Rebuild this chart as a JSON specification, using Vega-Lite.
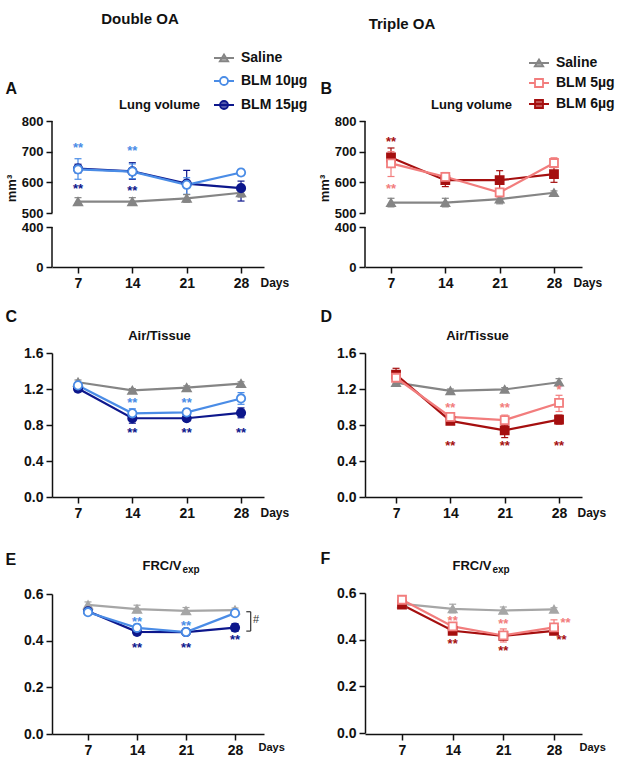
{
"$schema": "https://vega.github.io/schema/vega-lite/v6.json",
"padding": {"left": 5, "top": 12, "right": 5, "bottom": 5},
"config": {
  "font": "Liberation Sans",
  "view": {"stroke": null},
  "axis": {"domainColor": "#111", "domainWidth": 1.5, "tickColor": "#111", "tickWidth": 1.5, "tickSize": 6, "labelFont": "Liberation Sans", "labelFontSize": 14, "labelFontWeight": "bold", "labelColor": "#111", "labelPadding": 3, "titleFont": "Liberation Sans", "titleFontWeight": "bold", "titleFontSize": 13, "titleColor": "#111", "grid": false, "labelFlush": false, "labelOverlap": false, "labelBound": false},
  "title": {"font": "Liberation Sans", "fontWeight": "bold", "fontSize": 15, "color": "#111"},
  "text": {"font": "Liberation Sans"}
},
"datasets": {
  "A": [
    {"group": "Saline", "day": 7, "mean": 537, "lo": 525, "hi": 550},
    {"group": "Saline", "day": 14, "mean": 537, "lo": 525, "hi": 550},
    {"group": "Saline", "day": 21, "mean": 548, "lo": 535, "hi": 560},
    {"group": "Saline", "day": 28, "mean": 566, "lo": 552, "hi": 578},
    {"group": "BLM 15µg", "day": 7, "mean": 645, "lo": 631, "hi": 659},
    {"group": "BLM 15µg", "day": 14, "mean": 636, "lo": 610, "hi": 664},
    {"group": "BLM 15µg", "day": 21, "mean": 596, "lo": 545, "hi": 639},
    {"group": "BLM 15µg", "day": 28, "mean": 581, "lo": 539, "hi": 604},
    {"group": "BLM 10µg", "day": 7, "mean": 642, "lo": 610, "hi": 677},
    {"group": "BLM 10µg", "day": 14, "mean": 635, "lo": 612, "hi": 660},
    {"group": "BLM 10µg", "day": 21, "mean": 592, "lo": 561, "hi": 615},
    {"group": "BLM 10µg", "day": 28, "mean": 632, "lo": 622, "hi": 642}
  ],
  "A_sig": [
    {"group": "BLM 10µg", "day": 7, "pos": 718, "sig": "**"},
    {"group": "BLM 10µg", "day": 14, "pos": 709, "sig": "**"},
    {"group": "BLM 15µg", "day": 7, "pos": 586, "sig": "**"},
    {"group": "BLM 15µg", "day": 14, "pos": 578, "sig": "**"}
  ],
  "B": [
    {"group": "Saline", "day": 7, "mean": 534, "lo": 520, "hi": 548},
    {"group": "Saline", "day": 14, "mean": 534, "lo": 520, "hi": 548},
    {"group": "Saline", "day": 21, "mean": 545, "lo": 530, "hi": 558},
    {"group": "Saline", "day": 28, "mean": 566, "lo": 558, "hi": 572},
    {"group": "BLM 6µg", "day": 7, "mean": 681, "lo": 652, "hi": 712},
    {"group": "BLM 6µg", "day": 14, "mean": 607, "lo": 586, "hi": 625},
    {"group": "BLM 6µg", "day": 21, "mean": 607, "lo": 578, "hi": 638},
    {"group": "BLM 6µg", "day": 28, "mean": 627, "lo": 600, "hi": 650},
    {"group": "BLM 5µg", "day": 7, "mean": 662, "lo": 619, "hi": 700},
    {"group": "BLM 5µg", "day": 14, "mean": 618, "lo": 605, "hi": 632},
    {"group": "BLM 5µg", "day": 21, "mean": 567, "lo": 552, "hi": 580},
    {"group": "BLM 5µg", "day": 28, "mean": 663, "lo": 648, "hi": 680}
  ],
  "B_sig": [
    {"group": "BLM 6µg", "day": 7, "pos": 737, "sig": "**"},
    {"group": "BLM 5µg", "day": 7, "pos": 586, "sig": "**"}
  ],
  "C": [
    {"group": "Saline", "day": 7, "mean": 1.275, "lo": 1.25, "hi": 1.3},
    {"group": "Saline", "day": 14, "mean": 1.185, "lo": 1.165, "hi": 1.205},
    {"group": "Saline", "day": 21, "mean": 1.215, "lo": 1.195, "hi": 1.235},
    {"group": "Saline", "day": 28, "mean": 1.26, "lo": 1.24, "hi": 1.28},
    {"group": "BLM 15µg", "day": 7, "mean": 1.205, "lo": 1.17, "hi": 1.24},
    {"group": "BLM 15µg", "day": 14, "mean": 0.875, "lo": 0.82, "hi": 0.93},
    {"group": "BLM 15µg", "day": 21, "mean": 0.875, "lo": 0.84, "hi": 0.91},
    {"group": "BLM 15µg", "day": 28, "mean": 0.935, "lo": 0.88, "hi": 0.99},
    {"group": "BLM 10µg", "day": 7, "mean": 1.24, "lo": 1.2, "hi": 1.27},
    {"group": "BLM 10µg", "day": 14, "mean": 0.93, "lo": 0.88, "hi": 0.98},
    {"group": "BLM 10µg", "day": 21, "mean": 0.94, "lo": 0.9, "hi": 0.98},
    {"group": "BLM 10µg", "day": 28, "mean": 1.095, "lo": 1.03, "hi": 1.16}
  ],
  "C_sig": [
    {"group": "BLM 10µg", "day": 14, "pos": 1.067, "sig": "**"},
    {"group": "BLM 10µg", "day": 21, "pos": 1.067, "sig": "**"},
    {"group": "BLM 15µg", "day": 14, "pos": 0.733, "sig": "**"},
    {"group": "BLM 15µg", "day": 21, "pos": 0.733, "sig": "**"},
    {"group": "BLM 15µg", "day": 28, "pos": 0.733, "sig": "**"}
  ],
  "D": [
    {"group": "Saline", "day": 7, "mean": 1.27, "lo": 1.23, "hi": 1.31},
    {"group": "Saline", "day": 14, "mean": 1.18, "lo": 1.16, "hi": 1.2},
    {"group": "Saline", "day": 21, "mean": 1.195, "lo": 1.175, "hi": 1.215},
    {"group": "Saline", "day": 28, "mean": 1.275, "lo": 1.235, "hi": 1.315},
    {"group": "BLM 6µg", "day": 7, "mean": 1.36, "lo": 1.31, "hi": 1.43},
    {"group": "BLM 6µg", "day": 14, "mean": 0.845, "lo": 0.81, "hi": 0.88},
    {"group": "BLM 6µg", "day": 21, "mean": 0.74, "lo": 0.66, "hi": 0.8},
    {"group": "BLM 6µg", "day": 28, "mean": 0.86, "lo": 0.81, "hi": 0.91},
    {"group": "BLM 5µg", "day": 7, "mean": 1.325, "lo": 1.26, "hi": 1.4},
    {"group": "BLM 5µg", "day": 14, "mean": 0.89, "lo": 0.85, "hi": 0.93},
    {"group": "BLM 5µg", "day": 21, "mean": 0.855, "lo": 0.8, "hi": 0.91},
    {"group": "BLM 5µg", "day": 28, "mean": 1.045, "lo": 0.95, "hi": 1.13}
  ],
  "D_sig": [
    {"group": "BLM 5µg", "day": 14, "pos": 1.01, "sig": "**"},
    {"group": "BLM 5µg", "day": 21, "pos": 1.01, "sig": "**"},
    {"group": "BLM 5µg", "day": 28, "pos": 1.21, "sig": "*"},
    {"group": "BLM 6µg", "day": 14, "pos": 0.586, "sig": "**"},
    {"group": "BLM 6µg", "day": 21, "pos": 0.586, "sig": "**"},
    {"group": "BLM 6µg", "day": 28, "pos": 0.586, "sig": "**"}
  ],
  "E": [
    {"group": "Saline", "day": 7, "mean": 0.553, "lo": 0.54, "hi": 0.566},
    {"group": "Saline", "day": 14, "mean": 0.535, "lo": 0.52, "hi": 0.552},
    {"group": "Saline", "day": 21, "mean": 0.528, "lo": 0.515, "hi": 0.542},
    {"group": "Saline", "day": 28, "mean": 0.531, "lo": 0.522, "hi": 0.54},
    {"group": "BLM 15µg", "day": 7, "mean": 0.526, "lo": 0.518, "hi": 0.534},
    {"group": "BLM 15µg", "day": 14, "mean": 0.438, "lo": 0.425, "hi": 0.452},
    {"group": "BLM 15µg", "day": 21, "mean": 0.437, "lo": 0.43, "hi": 0.445},
    {"group": "BLM 15µg", "day": 28, "mean": 0.456, "lo": 0.44, "hi": 0.473},
    {"group": "BLM 10µg", "day": 7, "mean": 0.522, "lo": 0.515, "hi": 0.53},
    {"group": "BLM 10µg", "day": 14, "mean": 0.455, "lo": 0.44, "hi": 0.47},
    {"group": "BLM 10µg", "day": 21, "mean": 0.437, "lo": 0.43, "hi": 0.445},
    {"group": "BLM 10µg", "day": 28, "mean": 0.518, "lo": 0.51, "hi": 0.526}
  ],
  "E_sig": [
    {"group": "BLM 10µg", "day": 14, "pos": 0.49, "sig": "**"},
    {"group": "BLM 10µg", "day": 21, "pos": 0.472, "sig": "**"},
    {"group": "BLM 15µg", "day": 14, "pos": 0.377, "sig": "**"},
    {"group": "BLM 15µg", "day": 21, "pos": 0.377, "sig": "**"},
    {"group": "BLM 15µg", "day": 28, "pos": 0.413, "sig": "**"}
  ],
  "F": [
    {"group": "Saline", "day": 7, "mean": 0.553, "lo": 0.54, "hi": 0.566},
    {"group": "Saline", "day": 14, "mean": 0.532, "lo": 0.515, "hi": 0.552},
    {"group": "Saline", "day": 21, "mean": 0.525, "lo": 0.512, "hi": 0.54},
    {"group": "Saline", "day": 28, "mean": 0.53, "lo": 0.522, "hi": 0.537},
    {"group": "BLM 6µg", "day": 7, "mean": 0.55, "lo": 0.54, "hi": 0.56},
    {"group": "BLM 6µg", "day": 14, "mean": 0.438, "lo": 0.43, "hi": 0.446},
    {"group": "BLM 6µg", "day": 21, "mean": 0.416, "lo": 0.4, "hi": 0.432},
    {"group": "BLM 6µg", "day": 28, "mean": 0.438, "lo": 0.428, "hi": 0.45},
    {"group": "BLM 5µg", "day": 7, "mean": 0.571, "lo": 0.56, "hi": 0.582},
    {"group": "BLM 5µg", "day": 14, "mean": 0.457, "lo": 0.445, "hi": 0.47},
    {"group": "BLM 5µg", "day": 21, "mean": 0.418, "lo": 0.39, "hi": 0.446},
    {"group": "BLM 5µg", "day": 28, "mean": 0.453, "lo": 0.43, "hi": 0.485}
  ],
  "F_sig": [
    {"group": "BLM 5µg", "day": 14, "pos": 0.49, "sig": "**"},
    {"group": "BLM 5µg", "day": 21, "pos": 0.474, "sig": "**"},
    {"group": "BLM 5µg", "day": 29.6, "pos": 0.48, "sig": "**"},
    {"group": "BLM 6µg", "day": 14, "pos": 0.388, "sig": "**"},
    {"group": "BLM 6µg", "day": 21, "pos": 0.36, "sig": "**"},
    {"group": "BLM 6µg", "day": 29.03, "pos": 0.408, "sig": "**"}
  ]
},
"columns": 2,
"bounds": "flush",
"spacing": {"row": 86, "column": 101},
"resolve": {"scale": {"color": "independent", "fill": "independent", "shape": "independent", "opacity": "independent"}},
"concat": [
{
  "width": 212, "height": 146,
  "title": {"text": "Double OA", "frame": "group", "anchor": "middle", "dx": -18, "offset": 12, "baseline": "alphabetic", "fontSize": 15},
  "layer": [
    {"layer": [
      {"data": {"name": "A"}, "mark": {"type": "rule", "strokeWidth": 1.2},
       "encoding": {
         "x": {"field": "day", "type": "quantitative", "scale": {"domain": [3.65, 30.96], "nice": false, "zero": false},
               "axis": {"values": [7, 14, 21, 28], "tickCount": 20, "format": "d", "labelOverlap": false, "title": "Days", "titleX": 208, "titleY": 19, "titleAlign": "left", "titleBaseline": "alphabetic", "titleAngle": 0, "titleFontSize": 12}},
         "y": {"field": "lo", "type": "quantitative", "scale": {"domain": [0, 400, 500, 800], "range": [146, 106, 92, 0], "nice": false, "zero": false},
               "axis": {"values": [0, 400, 500, 600, 700, 800], "tickCount": 20, "labelFontSize": 13, "labelOverlap": false, "domain": false, "title": "mm³", "titleX": -37, "titleY": 67, "titleAngle": -90, "titleAlign": "center", "titleBaseline": "alphabetic", "titleFontSize": 13}},
         "y2": {"field": "hi"},
         "color": {"field": "group", "type": "nominal", "scale": {"domain": ["BLM 15µg", "BLM 10µg", "Saline"], "range": ["#0d178c", "#4a8ce6", "#858585"]}, "legend": null}
       }},
      {"data": {"name": "A"}, "mark": {"type": "point", "shape": "stroke", "size": 49, "strokeWidth": 1.2, "filled": false, "opacity": 1},
       "encoding": {"x": {"field": "day", "type": "quantitative"}, "y": {"field": "lo", "type": "quantitative"}, "color": {"field": "group", "type": "nominal", "legend": null}}},
      {"data": {"name": "A"}, "mark": {"type": "point", "shape": "stroke", "size": 49, "strokeWidth": 1.2, "filled": false, "opacity": 1},
       "encoding": {"x": {"field": "day", "type": "quantitative"}, "y": {"field": "hi", "type": "quantitative"}, "color": {"field": "group", "type": "nominal", "legend": null}}},
      {"data": {"name": "A"}, "mark": {"type": "line", "strokeWidth": 2.2},
       "encoding": {"x": {"field": "day", "type": "quantitative"}, "y": {"field": "mean", "type": "quantitative"}, "color": {"field": "group", "type": "nominal", "legend": null}}},
      {"data": {"name": "A"}, "mark": {"type": "point", "filled": false, "strokeWidth": 1.8, "size": 70},
       "encoding": {"x": {"field": "day", "type": "quantitative"}, "y": {"field": "mean", "type": "quantitative"}, "color": {"field": "group", "type": "nominal", "legend": null},
         "fill": {"field": "group", "type": "nominal", "scale": {"domain": ["BLM 10µg", "Saline", "BLM 15µg"], "range": ["#ffffff", "#858585", "#0d178c"]}, "legend": null},
         "shape": {"field": "group", "type": "nominal", "scale": {"domain": ["BLM 15µg", "Saline", "BLM 10µg"], "range": ["circle", "triangle-up", "circle"]}, "legend": null},
         "opacity": {"field": "group", "type": "ordinal", "scale": {"domain": ["Saline", "BLM 10µg", "BLM 15µg"], "range": [1, 1, 1]},
           "legend": {"orient": "none", "legendX": 165, "legendY": -70, "title": null, "labelFont": "Liberation Sans", "labelFontSize": 14, "labelFontWeight": "bold", "labelColor": "#111", "labelOffset": 10, "rowPadding": 8, "symbolSize": 64,
             "encoding": {"symbols": {
               "shape": {"value": {"expr": "datum.value === 'Saline' ? 'M-2.5,0H2.5M0,-0.9L1.05,0.85L-1.05,0.85Z' : datum.value === 'BLM 10µg' ? 'M-2.5,0H-1M1,0H2.5M-1,0A1,1,0,1,1,1,0A1,1,0,1,1,-1,0Z' : 'M-2.5,0H2.5M-1,0A1,1,0,1,1,1,0A1,1,0,1,1,-1,0Z'"}},
               "fill": {"value": {"expr": "datum.value === 'Saline' ? '#858585' : datum.value === 'BLM 10µg' ? '#ffffff' : '#0d178c'"}},
               "stroke": {"value": {"expr": "datum.value === 'Saline' ? '#858585' : datum.value === 'BLM 10µg' ? '#4a8ce6' : '#0d178c'"}},
               "strokeWidth": {"value": 1.8}, "size": {"value": 64}}}}}}},
      {"data": {"name": "A_sig"}, "mark": {"type": "text", "fontSize": 13, "fontWeight": "bold", "dy": 2},
       "encoding": {"x": {"field": "day", "type": "quantitative"}, "y": {"field": "pos", "type": "quantitative"}, "text": {"field": "sig"}, "color": {"field": "group", "type": "nominal", "legend": null}}},
      {"data": {"values": [{}]}, "mark": {"type": "rule", "color": "#111", "strokeWidth": 1.5},
       "encoding": {"x": {"datum": 3.65}, "y": {"datum": 0}, "y2": {"datum": 400}}},
      {"data": {"values": [{}]}, "mark": {"type": "rule", "color": "#111", "strokeWidth": 1.5},
       "encoding": {"x": {"datum": 3.65}, "y": {"datum": 500}, "y2": {"datum": 800}}}
    ]},
    {"data": {"name": "A"}, "mark": {"type": "point", "opacity": 0},
     "encoding": {
       "x": {"field": "day", "type": "quantitative", "axis": {"orient": "top", "domain": false, "ticks": false, "labels": false, "title": "Lung volume", "titleX": 107, "titleY": -13, "titleAlign": "center", "titleBaseline": "alphabetic", "titleAngle": 0, "titleFontSize": 13}},
       "y": {"field": "mean", "type": "quantitative", "axis": {"orient": "right", "domain": false, "ticks": false, "labels": false, "title": "A", "titleX": -259, "titleY": -28, "titleAlign": "left", "titleBaseline": "alphabetic", "titleAngle": 0, "titleFontSize": 16}}}}
  ],
  "resolve": {"axis": {"x": "independent", "y": "independent"}}
},
{
  "width": 217, "height": 146,
  "title": {"text": "Triple OA", "frame": "group", "anchor": "middle", "dx": -71.5, "offset": 12, "baseline": "alphabetic", "fontSize": 15},
  "layer": [
    {"layer": [
      {"data": {"name": "B"}, "mark": {"type": "rule", "strokeWidth": 1.2},
       "encoding": {
         "x": {"field": "day", "type": "quantitative", "scale": {"domain": [3.65, 31.61], "nice": false, "zero": false},
               "axis": {"values": [7, 14, 21, 28], "tickCount": 20, "format": "d", "labelOverlap": false, "title": "Days", "titleX": 208, "titleY": 19, "titleAlign": "left", "titleBaseline": "alphabetic", "titleAngle": 0, "titleFontSize": 12}},
         "y": {"field": "lo", "type": "quantitative", "scale": {"domain": [0, 400, 500, 800], "range": [146, 106, 92, 0], "nice": false, "zero": false},
               "axis": {"values": [0, 400, 500, 600, 700, 800], "tickCount": 20, "labelFontSize": 13, "labelOverlap": false, "domain": false, "title": "mm³", "titleX": -37, "titleY": 67, "titleAngle": -90, "titleAlign": "center", "titleBaseline": "alphabetic", "titleFontSize": 13}},
         "y2": {"field": "hi"},
         "color": {"field": "group", "type": "nominal", "scale": {"domain": ["BLM 6µg", "BLM 5µg", "Saline"], "range": ["#a50f0f", "#f27d7d", "#858585"]}, "legend": null}
       }},
      {"data": {"name": "B"}, "mark": {"type": "point", "shape": "stroke", "size": 49, "strokeWidth": 1.2, "filled": false, "opacity": 1},
       "encoding": {"x": {"field": "day", "type": "quantitative"}, "y": {"field": "lo", "type": "quantitative"}, "color": {"field": "group", "type": "nominal", "legend": null}}},
      {"data": {"name": "B"}, "mark": {"type": "point", "shape": "stroke", "size": 49, "strokeWidth": 1.2, "filled": false, "opacity": 1},
       "encoding": {"x": {"field": "day", "type": "quantitative"}, "y": {"field": "hi", "type": "quantitative"}, "color": {"field": "group", "type": "nominal", "legend": null}}},
      {"data": {"name": "B"}, "mark": {"type": "line", "strokeWidth": 2.2},
       "encoding": {"x": {"field": "day", "type": "quantitative"}, "y": {"field": "mean", "type": "quantitative"}, "color": {"field": "group", "type": "nominal", "legend": null}}},
      {"data": {"name": "B"}, "mark": {"type": "point", "filled": false, "strokeWidth": 1.8, "size": 64},
       "encoding": {"x": {"field": "day", "type": "quantitative"}, "y": {"field": "mean", "type": "quantitative"}, "color": {"field": "group", "type": "nominal", "legend": null},
         "fill": {"field": "group", "type": "nominal", "scale": {"domain": ["BLM 5µg", "Saline", "BLM 6µg"], "range": ["#ffffff", "#858585", "#a50f0f"]}, "legend": null},
         "shape": {"field": "group", "type": "nominal", "scale": {"domain": ["BLM 6µg", "Saline", "BLM 5µg"], "range": ["square", "triangle-up", "square"]}, "legend": null},
         "opacity": {"field": "group", "type": "ordinal", "scale": {"domain": ["Saline", "BLM 5µg", "BLM 6µg"], "range": [1, 1, 1]},
           "legend": {"orient": "none", "legendX": 167, "legendY": -65, "title": null, "labelFont": "Liberation Sans", "labelFontSize": 14, "labelFontWeight": "bold", "labelColor": "#111", "labelOffset": 10, "rowPadding": 5, "symbolSize": 64,
             "encoding": {"symbols": {
               "shape": {"value": {"expr": "datum.value === 'Saline' ? 'M-2.5,0H2.5M0,-0.9L1.05,0.85L-1.05,0.85Z' : datum.value === 'BLM 5µg' ? 'M-2.5,0H-1M1,0H2.5M-1,-1H1V1H-1Z' : 'M-2.5,0H2.5M-1,-1H1V1H-1Z'"}},
               "fill": {"value": {"expr": "datum.value === 'Saline' ? '#858585' : datum.value === 'BLM 5µg' ? '#ffffff' : '#a50f0f'"}},
               "stroke": {"value": {"expr": "datum.value === 'Saline' ? '#858585' : datum.value === 'BLM 5µg' ? '#f27d7d' : '#a50f0f'"}},
               "strokeWidth": {"value": 1.8}, "size": {"value": 64}}}}}}},
      {"data": {"name": "B_sig"}, "mark": {"type": "text", "fontSize": 13, "fontWeight": "bold", "dy": 2},
       "encoding": {"x": {"field": "day", "type": "quantitative"}, "y": {"field": "pos", "type": "quantitative"}, "text": {"field": "sig"}, "color": {"field": "group", "type": "nominal", "legend": null}}},
      {"data": {"values": [{}]}, "mark": {"type": "rule", "color": "#111", "strokeWidth": 1.5},
       "encoding": {"x": {"datum": 3.65}, "y": {"datum": 0}, "y2": {"datum": 400}}},
      {"data": {"values": [{}]}, "mark": {"type": "rule", "color": "#111", "strokeWidth": 1.5},
       "encoding": {"x": {"datum": 3.65}, "y": {"datum": 500}, "y2": {"datum": 800}}}
    ]},
    {"data": {"name": "B"}, "mark": {"type": "point", "opacity": 0},
     "encoding": {
       "x": {"field": "day", "type": "quantitative", "axis": {"orient": "top", "domain": false, "ticks": false, "labels": false, "title": "Lung volume", "titleX": 106, "titleY": -13, "titleAlign": "center", "titleBaseline": "alphabetic", "titleAngle": 0, "titleFontSize": 13}},
       "y": {"field": "mean", "type": "quantitative", "axis": {"orient": "right", "domain": false, "ticks": false, "labels": false, "title": "B", "titleX": -262, "titleY": -28, "titleAlign": "left", "titleBaseline": "alphabetic", "titleAngle": 0, "titleFontSize": 16}}}}
  ],
  "resolve": {"axis": {"x": "independent", "y": "independent"}}
},
{
  "width": 212, "height": 144,
  "layer": [
    {"layer": [
      {"data": {"name": "C"}, "mark": {"type": "rule", "strokeWidth": 1.2},
       "encoding": {
         "x": {"field": "day", "type": "quantitative", "scale": {"domain": [3.65, 30.96], "nice": false, "zero": false},
               "axis": {"values": [7, 14, 21, 28], "tickCount": 20, "format": "d", "labelOverlap": false, "title": "Days", "titleX": 208, "titleY": 19, "titleAlign": "left", "titleBaseline": "alphabetic", "titleAngle": 0, "titleFontSize": 12}},
         "y": {"field": "lo", "type": "quantitative", "scale": {"domain": [0, 1.6], "nice": false, "zero": false},
               "axis": {"values": [0, 0.4, 0.8, 1.2, 1.6], "tickCount": 20, "format": ".1f", "labelOverlap": false, "title": null}},
         "y2": {"field": "hi"},
         "color": {"field": "group", "type": "nominal", "scale": {"domain": ["Saline", "BLM 10µg", "BLM 15µg"], "range": ["#858585", "#4a8ce6", "#0d178c"]}, "legend": null}
       }},
      {"data": {"name": "C"}, "mark": {"type": "point", "shape": "stroke", "size": 49, "strokeWidth": 1.2, "filled": false, "opacity": 1},
       "encoding": {"x": {"field": "day", "type": "quantitative"}, "y": {"field": "lo", "type": "quantitative"}, "color": {"field": "group", "type": "nominal", "legend": null}}},
      {"data": {"name": "C"}, "mark": {"type": "point", "shape": "stroke", "size": 49, "strokeWidth": 1.2, "filled": false, "opacity": 1},
       "encoding": {"x": {"field": "day", "type": "quantitative"}, "y": {"field": "hi", "type": "quantitative"}, "color": {"field": "group", "type": "nominal", "legend": null}}},
      {"data": {"name": "C"}, "mark": {"type": "line", "strokeWidth": 2.2},
       "encoding": {"x": {"field": "day", "type": "quantitative"}, "y": {"field": "mean", "type": "quantitative"}, "color": {"field": "group", "type": "nominal", "legend": null}}},
      {"data": {"name": "C"}, "mark": {"type": "point", "filled": false, "opacity": 1, "strokeWidth": 1.8, "size": 70},
       "encoding": {"x": {"field": "day", "type": "quantitative"}, "y": {"field": "mean", "type": "quantitative"}, "color": {"field": "group", "type": "nominal", "legend": null},
         "fill": {"field": "group", "type": "nominal", "scale": {"domain": ["Saline", "BLM 10µg", "BLM 15µg"], "range": ["#858585", "#ffffff", "#0d178c"]}, "legend": null},
         "shape": {"field": "group", "type": "nominal", "scale": {"domain": ["Saline", "BLM 10µg", "BLM 15µg"], "range": ["triangle-up", "circle", "circle"]}, "legend": null}}},
      {"data": {"name": "C_sig"}, "mark": {"type": "text", "fontSize": 13, "fontWeight": "bold", "dy": 2},
       "encoding": {"x": {"field": "day", "type": "quantitative"}, "y": {"field": "pos", "type": "quantitative"}, "text": {"field": "sig"}, "color": {"field": "group", "type": "nominal", "legend": null}}}
    ]},
    {"data": {"name": "C"}, "mark": {"type": "point", "opacity": 0},
     "encoding": {
       "x": {"field": "day", "type": "quantitative", "axis": {"orient": "top", "domain": false, "ticks": false, "labels": false, "title": "Air/Tissue", "titleX": 107, "titleY": -14, "titleAlign": "center", "titleBaseline": "alphabetic", "titleAngle": 0, "titleFontSize": 13}},
       "y": {"field": "mean", "type": "quantitative", "axis": {"orient": "right", "domain": false, "ticks": false, "labels": false, "title": "C", "titleX": -259, "titleY": -32, "titleAlign": "left", "titleBaseline": "alphabetic", "titleAngle": 0, "titleFontSize": 16}}}}
  ],
  "resolve": {"axis": {"x": "independent", "y": "independent"}}
},
{
  "width": 217, "height": 144,
  "layer": [
    {"layer": [
      {"data": {"name": "D"}, "mark": {"type": "rule", "strokeWidth": 1.2},
       "encoding": {
         "x": {"field": "day", "type": "quantitative", "scale": {"domain": [3.0, 30.96], "nice": false, "zero": false},
               "axis": {"values": [7, 14, 21, 28], "tickCount": 20, "format": "d", "labelOverlap": false, "title": "Days", "titleX": 212, "titleY": 19, "titleAlign": "left", "titleBaseline": "alphabetic", "titleAngle": 0, "titleFontSize": 12}},
         "y": {"field": "lo", "type": "quantitative", "scale": {"domain": [0, 1.6], "nice": false, "zero": false},
               "axis": {"values": [0, 0.4, 0.8, 1.2, 1.6], "tickCount": 20, "format": ".1f", "labelOverlap": false, "title": null}},
         "y2": {"field": "hi"},
         "color": {"field": "group", "type": "nominal", "scale": {"domain": ["Saline", "BLM 5µg", "BLM 6µg"], "range": ["#858585", "#f27d7d", "#a50f0f"]}, "legend": null}
       }},
      {"data": {"name": "D"}, "mark": {"type": "point", "shape": "stroke", "size": 49, "strokeWidth": 1.2, "filled": false, "opacity": 1},
       "encoding": {"x": {"field": "day", "type": "quantitative"}, "y": {"field": "lo", "type": "quantitative"}, "color": {"field": "group", "type": "nominal", "legend": null}}},
      {"data": {"name": "D"}, "mark": {"type": "point", "shape": "stroke", "size": 49, "strokeWidth": 1.2, "filled": false, "opacity": 1},
       "encoding": {"x": {"field": "day", "type": "quantitative"}, "y": {"field": "hi", "type": "quantitative"}, "color": {"field": "group", "type": "nominal", "legend": null}}},
      {"data": {"name": "D"}, "mark": {"type": "line", "strokeWidth": 2.2},
       "encoding": {"x": {"field": "day", "type": "quantitative"}, "y": {"field": "mean", "type": "quantitative"}, "color": {"field": "group", "type": "nominal", "legend": null}}},
      {"data": {"name": "D"}, "mark": {"type": "point", "filled": false, "opacity": 1, "strokeWidth": 1.8, "size": 64},
       "encoding": {"x": {"field": "day", "type": "quantitative"}, "y": {"field": "mean", "type": "quantitative"}, "color": {"field": "group", "type": "nominal", "legend": null},
         "fill": {"field": "group", "type": "nominal", "scale": {"domain": ["Saline", "BLM 5µg", "BLM 6µg"], "range": ["#858585", "#ffffff", "#a50f0f"]}, "legend": null},
         "shape": {"field": "group", "type": "nominal", "scale": {"domain": ["Saline", "BLM 5µg", "BLM 6µg"], "range": ["triangle-up", "square", "square"]}, "legend": null}}},
      {"data": {"name": "D_sig"}, "mark": {"type": "text", "fontSize": 13, "fontWeight": "bold", "dy": 2},
       "encoding": {"x": {"field": "day", "type": "quantitative"}, "y": {"field": "pos", "type": "quantitative"}, "text": {"field": "sig"}, "color": {"field": "group", "type": "nominal", "legend": null}}}
    ]},
    {"data": {"name": "D"}, "mark": {"type": "point", "opacity": 0},
     "encoding": {
       "x": {"field": "day", "type": "quantitative", "axis": {"orient": "top", "domain": false, "ticks": false, "labels": false, "title": "Air/Tissue", "titleX": 112, "titleY": -14, "titleAlign": "center", "titleBaseline": "alphabetic", "titleAngle": 0, "titleFontSize": 13}},
       "y": {"field": "mean", "type": "quantitative", "axis": {"orient": "right", "domain": false, "ticks": false, "labels": false, "title": "D", "titleX": -262, "titleY": -32, "titleAlign": "left", "titleBaseline": "alphabetic", "titleAngle": 0, "titleFontSize": 16}}}}
  ],
  "resolve": {"axis": {"x": "independent", "y": "independent"}}
},
{
  "width": 212, "height": 151,
  "layer": [
    {"layer": [
      {"data": {"name": "E"}, "mark": {"type": "rule", "strokeWidth": 1.2},
       "encoding": {
         "x": {"field": "day", "type": "quantitative", "scale": {"domain": [1.857, 32.14], "nice": false, "zero": false},
               "axis": {"values": [7, 14, 21, 28], "tickCount": 20, "format": "d", "labelOverlap": false, "title": "Days", "titleX": 206, "titleY": 16, "titleAlign": "left", "titleBaseline": "alphabetic", "titleAngle": 0, "titleFontSize": 11}},
         "y": {"field": "lo", "type": "quantitative", "scale": {"domain": [0, 0.6], "range": [151, 11], "nice": false, "zero": false},
               "axis": {"values": [0, 0.2, 0.4, 0.6], "tickCount": 20, "format": ".1f", "labelOverlap": false, "title": "exp", "titleX": 130, "titleY": -11, "titleAngle": 0, "titleAlign": "left", "titleBaseline": "alphabetic", "titleFontSize": 10}},
         "y2": {"field": "hi"},
         "color": {"field": "group", "type": "nominal", "scale": {"domain": ["Saline", "BLM 10µg", "BLM 15µg"], "range": ["#a6a6a6", "#4a8ce6", "#0d178c"]}, "legend": null}
       }},
      {"data": {"name": "E"}, "mark": {"type": "point", "shape": "stroke", "size": 49, "strokeWidth": 1.2, "filled": false, "opacity": 1},
       "encoding": {"x": {"field": "day", "type": "quantitative"}, "y": {"field": "lo", "type": "quantitative"}, "color": {"field": "group", "type": "nominal", "legend": null}}},
      {"data": {"name": "E"}, "mark": {"type": "point", "shape": "stroke", "size": 49, "strokeWidth": 1.2, "filled": false, "opacity": 1},
       "encoding": {"x": {"field": "day", "type": "quantitative"}, "y": {"field": "hi", "type": "quantitative"}, "color": {"field": "group", "type": "nominal", "legend": null}}},
      {"data": {"name": "E"}, "mark": {"type": "line", "strokeWidth": 2.2},
       "encoding": {"x": {"field": "day", "type": "quantitative"}, "y": {"field": "mean", "type": "quantitative"}, "color": {"field": "group", "type": "nominal", "legend": null}}},
      {"data": {"name": "E"}, "mark": {"type": "point", "filled": false, "opacity": 1, "strokeWidth": 1.8, "size": 70},
       "encoding": {"x": {"field": "day", "type": "quantitative"}, "y": {"field": "mean", "type": "quantitative"}, "color": {"field": "group", "type": "nominal", "legend": null},
         "fill": {"field": "group", "type": "nominal", "scale": {"domain": ["Saline", "BLM 10µg", "BLM 15µg"], "range": ["#a6a6a6", "#ffffff", "#0d178c"]}, "legend": null},
         "shape": {"field": "group", "type": "nominal", "scale": {"domain": ["Saline", "BLM 10µg", "BLM 15µg"], "range": ["triangle-up", "circle", "circle"]}, "legend": null}}},
      {"data": {"name": "E_sig"}, "mark": {"type": "text", "fontSize": 13, "fontWeight": "bold", "dy": 2},
       "encoding": {"x": {"field": "day", "type": "quantitative"}, "y": {"field": "pos", "type": "quantitative"}, "text": {"field": "sig"}, "color": {"field": "group", "type": "nominal", "legend": null}}},
      {"data": {"values": [{}]}, "mark": {"type": "rule", "color": "#333", "strokeWidth": 1.2},
       "encoding": {"x": {"datum": 30.24}, "y": {"datum": 0.441}, "y2": {"datum": 0.524}}},
      {"data": {"values": [{}]}, "mark": {"type": "rule", "color": "#333", "strokeWidth": 1.2},
       "encoding": {"x": {"datum": 29.61}, "x2": {"datum": 30.24}, "y": {"datum": 0.524}}},
      {"data": {"values": [{}]}, "mark": {"type": "rule", "color": "#333", "strokeWidth": 1.2},
       "encoding": {"x": {"datum": 29.61}, "x2": {"datum": 30.24}, "y": {"datum": 0.441}}},
      {"data": {"values": [{}]}, "mark": {"type": "text", "text": "#", "fontSize": 11, "align": "left", "baseline": "middle", "color": "#333"},
       "encoding": {"x": {"datum": 30.57}, "y": {"datum": 0.487}}}
    ]},
    {"data": {"name": "E"}, "mark": {"type": "point", "opacity": 0},
     "encoding": {
       "x": {"field": "day", "type": "quantitative", "axis": {"orient": "top", "domain": false, "ticks": false, "labels": false, "title": "FRC/V", "titleX": 129, "titleY": -14, "titleAlign": "right", "titleBaseline": "alphabetic", "titleAngle": 0, "titleFontSize": 13}},
       "y": {"field": "mean", "type": "quantitative", "axis": {"orient": "right", "domain": false, "ticks": false, "labels": false, "title": "E", "titleX": -259, "titleY": -19, "titleAlign": "left", "titleBaseline": "alphabetic", "titleAngle": 0, "titleFontSize": 16}}}}
  ],
  "resolve": {"axis": {"x": "independent", "y": "independent"}}
},
{
  "width": 217, "height": 151,
  "layer": [
    {"layer": [
      {"data": {"name": "F"}, "mark": {"type": "rule", "strokeWidth": 1.2},
       "encoding": {
         "x": {"field": "day", "type": "quantitative", "scale": {"domain": [1.888, 31.87], "nice": false, "zero": false},
               "axis": {"values": [7, 14, 21, 28], "tickCount": 20, "format": "d", "labelOverlap": false, "title": "Days", "titleX": 214, "titleY": 16, "titleAlign": "left", "titleBaseline": "alphabetic", "titleAngle": 0, "titleFontSize": 11}},
         "y": {"field": "lo", "type": "quantitative", "scale": {"domain": [0, 0.6], "range": [150, 10], "nice": false, "zero": false},
               "axis": {"values": [0, 0.2, 0.4, 0.6], "tickCount": 20, "format": ".1f", "labelOverlap": false, "title": "exp", "titleX": 127, "titleY": -11, "titleAngle": 0, "titleAlign": "left", "titleBaseline": "alphabetic", "titleFontSize": 10}},
         "y2": {"field": "hi"},
         "color": {"field": "group", "type": "nominal", "scale": {"domain": ["Saline", "BLM 5µg", "BLM 6µg"], "range": ["#a6a6a6", "#f27d7d", "#a50f0f"]}, "legend": null}
       }},
      {"data": {"name": "F"}, "mark": {"type": "point", "shape": "stroke", "size": 49, "strokeWidth": 1.2, "filled": false, "opacity": 1},
       "encoding": {"x": {"field": "day", "type": "quantitative"}, "y": {"field": "lo", "type": "quantitative"}, "color": {"field": "group", "type": "nominal", "legend": null}}},
      {"data": {"name": "F"}, "mark": {"type": "point", "shape": "stroke", "size": 49, "strokeWidth": 1.2, "filled": false, "opacity": 1},
       "encoding": {"x": {"field": "day", "type": "quantitative"}, "y": {"field": "hi", "type": "quantitative"}, "color": {"field": "group", "type": "nominal", "legend": null}}},
      {"data": {"name": "F"}, "mark": {"type": "line", "strokeWidth": 2.2},
       "encoding": {"x": {"field": "day", "type": "quantitative"}, "y": {"field": "mean", "type": "quantitative"}, "color": {"field": "group", "type": "nominal", "legend": null}}},
      {"data": {"name": "F"}, "mark": {"type": "point", "filled": false, "opacity": 1, "strokeWidth": 1.8, "size": 64},
       "encoding": {"x": {"field": "day", "type": "quantitative"}, "y": {"field": "mean", "type": "quantitative"}, "color": {"field": "group", "type": "nominal", "legend": null},
         "fill": {"field": "group", "type": "nominal", "scale": {"domain": ["Saline", "BLM 5µg", "BLM 6µg"], "range": ["#a6a6a6", "#ffffff", "#a50f0f"]}, "legend": null},
         "shape": {"field": "group", "type": "nominal", "scale": {"domain": ["Saline", "BLM 5µg", "BLM 6µg"], "range": ["triangle-up", "square", "square"]}, "legend": null}}},
      {"data": {"name": "F_sig"}, "mark": {"type": "text", "fontSize": 13, "fontWeight": "bold", "dy": 2},
       "encoding": {"x": {"field": "day", "type": "quantitative"}, "y": {"field": "pos", "type": "quantitative"}, "text": {"field": "sig"}, "color": {"field": "group", "type": "nominal", "legend": null}}}
    ]},
    {"data": {"name": "F"}, "mark": {"type": "point", "opacity": 0},
     "encoding": {
       "x": {"field": "day", "type": "quantitative", "axis": {"orient": "top", "domain": false, "ticks": false, "labels": false, "title": "FRC/V", "titleX": 126, "titleY": -14, "titleAlign": "right", "titleBaseline": "alphabetic", "titleAngle": 0, "titleFontSize": 13}},
       "y": {"field": "mean", "type": "quantitative", "axis": {"orient": "right", "domain": false, "ticks": false, "labels": false, "title": "F", "titleX": -262, "titleY": -20, "titleAlign": "left", "titleBaseline": "alphabetic", "titleAngle": 0, "titleFontSize": 16}}}}
  ],
  "resolve": {"axis": {"x": "independent", "y": "independent"}}
}
]
}
